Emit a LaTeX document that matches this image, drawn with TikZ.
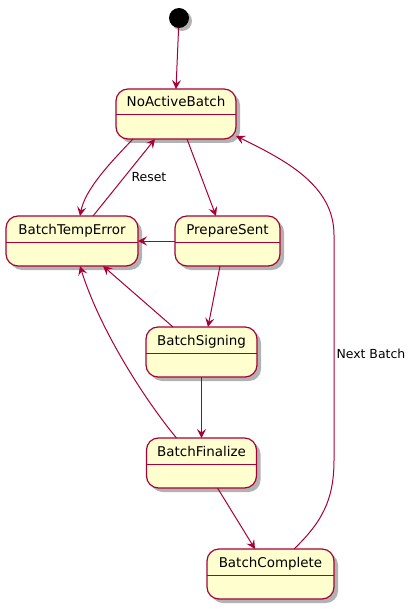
\documentclass[tikz,border=0pt]{standalone}
\usepackage{fontspec}
\setmainfont{DejaVu Sans}
\usetikzlibrary{shapes,arrows.meta,positioning,shadows}
\definecolor{borde}{HTML}{A80036}
\definecolor{relleno}{HTML}{FEFECE}

\begin{document}
\begin{tikzpicture}[x=1bp, y=-1bp, node distance = 37bp]

    \tikzstyle{estado} = [
        rectangle,
        draw=borde,
        line width=1.2bp,
        fill=relleno,
        rounded corners=12bp,
        minimum height=50bp,
        text height=18bp,
        text depth=32bp,
        inner xsep=0pt,
        inner ysep=0pt,
        outer sep=0pt,
        font=\fontsize{13.5}{16}\selectfont,
        drop shadow={shadow xshift=4bp, shadow yshift=-4bp, opacity=0.3, fill=black},
        path picture={
            \draw[borde, line width=1bp]
                ([yshift=-26bp]path picture bounding box.north west) --
                ([yshift=-26bp]path picture bounding box.north east);
        }
    ]
    \tikzstyle{inicio} = [
        circle,
        fill=black,
        minimum size=20bp,
        inner sep=0pt,
        outer sep=0pt,
        drop shadow={shadow xshift=3bp, shadow yshift=-3bp, opacity=0.3, fill=black}
    ]
    \tikzstyle{line} = [
        draw=borde,
        line width=1bp,
        -{Stealth[length=9bp, width=9bp, inset=3.5bp]},
    ]
    \tikzstyle{etiqueta} = [
        font=\fontsize{12.5}{15}\selectfont,
        inner sep=2bp
    ]

    \useasboundingbox (0,0) rectangle (416,609);

    \node [inicio]                          (ini)  at (179,18)    {};
    \node [estado, minimum width=120bp]     (nab)  at (176,114)   {NoActiveBatch};
    \node [estado, minimum width=132bp]     (err)  at (72,241)    {BatchTempError};
    \node [estado, minimum width=105bp, right=37bp of err] (prep) {PrepareSent};
    \node [estado, minimum width=111bp]     (sig)  at (201.5,352) {BatchSigning};
    \node [estado, minimum width=110bp, below=61bp of sig]  (fin) {BatchFinalize};
    \node [estado, minimum width=127bp]     (comp) at (270.5,574) {BatchComplete};

    \path [line] (ini) -- (nab.north);

    \path [line] ([xshift=-43bp]nab.south)
        .. controls (108,165) and (85,190) .. ([xshift=8bp]err.north);
    \path [line] ([xshift=21bp]err.north)
        -- node [etiqueta, right, xshift=5bp] {Reset} ([xshift=-21bp]nab.south);
    \path [line] ([xshift=11bp]nab.south) -- ([xshift=-11.5bp]prep.north);

    \path [line] (prep.west) -- (err.east);
    \path [line] ([xshift=-7.5bp]prep.south) -- ([xshift=6.5bp]sig.north);

    \path [line] ([xshift=-28.5bp]sig.north) -- ([xshift=31bp]err.south);
    \path [line] (sig.south) -- (fin.north);

    \path [line] ([xshift=-25bp]fin.north)
        .. controls (145,400) and (100,330) .. ([xshift=8bp]err.south);
    \path [line] ([xshift=16bp]fin.south) -- ([xshift=-15.5bp]comp.north);

    \path [line] ([xshift=23.5bp]comp.north)
        .. controls (322,522) and (334,500) .. (334,460)
        -- node [etiqueta, right, pos=0.47] {Next Batch} (334,235)
        .. controls (334,185) and (285,160) .. ([yshift=-22bp]nab.east);

\end{tikzpicture}
\end{document}
